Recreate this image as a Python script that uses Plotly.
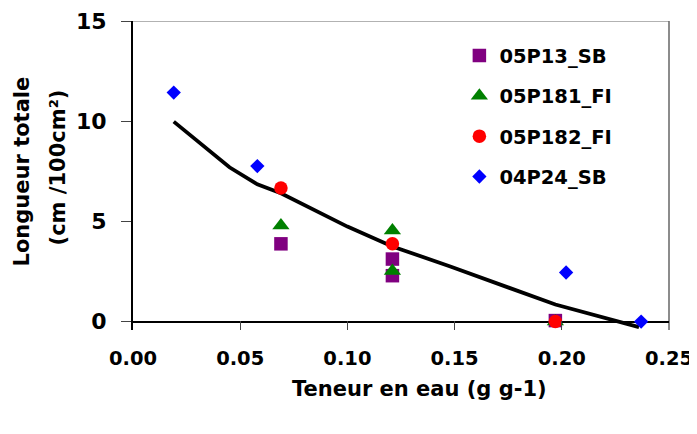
import plotly.graph_objects as go

# ---- data ----
x_05P13_SB = [0.069, 0.121, 0.121, 0.197]
y_05P13_SB = [3.88, 3.12, 2.29, 0.05]

x_05P181_FI = [0.069, 0.121, 0.121, 0.197]
y_05P181_FI = [4.80, 4.54, 2.52, 0.0]

x_05P182_FI = [0.069, 0.121, 0.197]
y_05P182_FI = [6.67, 3.88, 0.0]

x_04P24_SB = [0.019, 0.058, 0.202, 0.237]
y_04P24_SB = [11.43, 7.76, 2.45, 0.0]

x_model = [0.019, 0.045, 0.058, 0.069, 0.100, 0.121, 0.148, 0.197, 0.236]
y_model = [9.98, 7.70, 6.85, 6.40, 4.74, 3.75, 2.75, 0.85, -0.28]

x_ticks = [0.00, 0.05, 0.10, 0.15, 0.20, 0.25]
x_ticklabels = ["0.00", "0.05", "0.10", "0.15", "0.20", "0.25"]
y_ticks = [0, 5, 10, 15]

FONT = "DejaVu Sans"

fig = go.Figure()

fig.add_trace(go.Scatter(x=x_model, y=y_model, mode="lines",
                         line=dict(color="black", width=3.8),
                         showlegend=False, hoverinfo="skip"))

series = [
    ("05P13_SB", x_05P13_SB, y_05P13_SB, "square", "#800080", 13.5),
    ("05P181_FI", x_05P181_FI, y_05P181_FI, "triangle-up", "#008000", 15),
    ("05P182_FI", x_05P182_FI, y_05P182_FI, "circle", "#FF0000", 13.5),
    ("04P24_SB", x_04P24_SB, y_04P24_SB, "diamond", "#0000FF", 11),
]
for name, xs, ys, sym, col, sz in series:
    fig.add_trace(go.Scatter(x=xs, y=ys, mode="markers", name=name,
                             legendgroup=name,
                             marker=dict(symbol=sym, color=col, size=sz,
                                         line=dict(width=0)),
                             cliponaxis=False))

# page has an 8px body margin: work in page pixels and convert
OFF = 8
W, H = 697 - OFF, 434 - OFF
PL, PR, PT, PB = 132.5, 668.7, 20.7, 330.5   # plot area in page pixels
L = PL - OFF
T = PT - OFF
R = W - (PR - OFF)
B = H - (PB - OFF)
pw = PR - PL
ph = PB - PT

def px_x(p):
    return (p - PL) / pw

def px_y(p):
    return (PB - p) / ph

fig.update_layout(
    width=W, height=H,
    margin=dict(l=L, r=R, t=T, b=B, pad=0, autoexpand=False),
    paper_bgcolor="white", plot_bgcolor="white",
    font=dict(family=FONT, size=19, color="black", weight="bold"),
    showlegend=True,
    legend=dict(x=px_x(459), y=px_y(36), xanchor="left", yanchor="top",
                bgcolor="rgba(0,0,0,0)", borderwidth=0,
                font=dict(family=FONT, size=19.5, color="black", weight="bold"),
                tracegroupgap=12, itemwidth=30),
    xaxis=dict(range=[0, 0.25], tickvals=x_ticks, ticktext=x_ticklabels,
               automargin=False,
               showgrid=False, zeroline=False, showline=False,
               ticks="inside", ticklen=9, tickwidth=1, tickcolor="#444",
               ticklabelstandoff=14,
               tickfont=dict(family=FONT, size=19.5, color="black", weight="bold")),
    yaxis=dict(range=[-0.42, 15], tickvals=y_ticks, automargin=False,
               showgrid=False, zeroline=True, zerolinecolor="black",
               zerolinewidth=2, showline=True, linecolor="black", linewidth=2,
               ticks="outside", ticklen=10, tickwidth=1, tickcolor="#444",
               ticklabelstandoff=10,
               tickfont=dict(family=FONT, size=22, color="black", weight="bold")),
    shapes=[
        dict(type="line", xref="paper", yref="y", x0=0, x1=1, y0=15, y1=15,
             line=dict(color="#666", width=1), layer="below"),
        dict(type="line", xref="paper", yref="paper", x0=1, x1=1, y0=0, y1=1,
             line=dict(color="#666", width=1.5), layer="below"),
    ],
    annotations=[
        dict(text="Longueur totale", xref="paper", yref="paper",
             x=px_x(21), y=px_y(172), xanchor="center", yanchor="middle",
             textangle=-90, showarrow=False,
             font=dict(family=FONT, size=21, color="black", weight="bold")),
        dict(text="(cm /100cm²)", xref="paper", yref="paper",
             x=px_x(57), y=px_y(168), xanchor="center", yanchor="middle",
             textangle=-90, showarrow=False,
             font=dict(family=FONT, size=21, color="black", weight="bold")),
        dict(text="Teneur en eau (g g-1)", xref="paper", yref="paper",
             x=px_x(419), y=px_y(390), xanchor="center", yanchor="middle",
             showarrow=False,
             font=dict(family=FONT, size=21, color="black", weight="bold")),
    ],
)

fig.write_html("out.html")
